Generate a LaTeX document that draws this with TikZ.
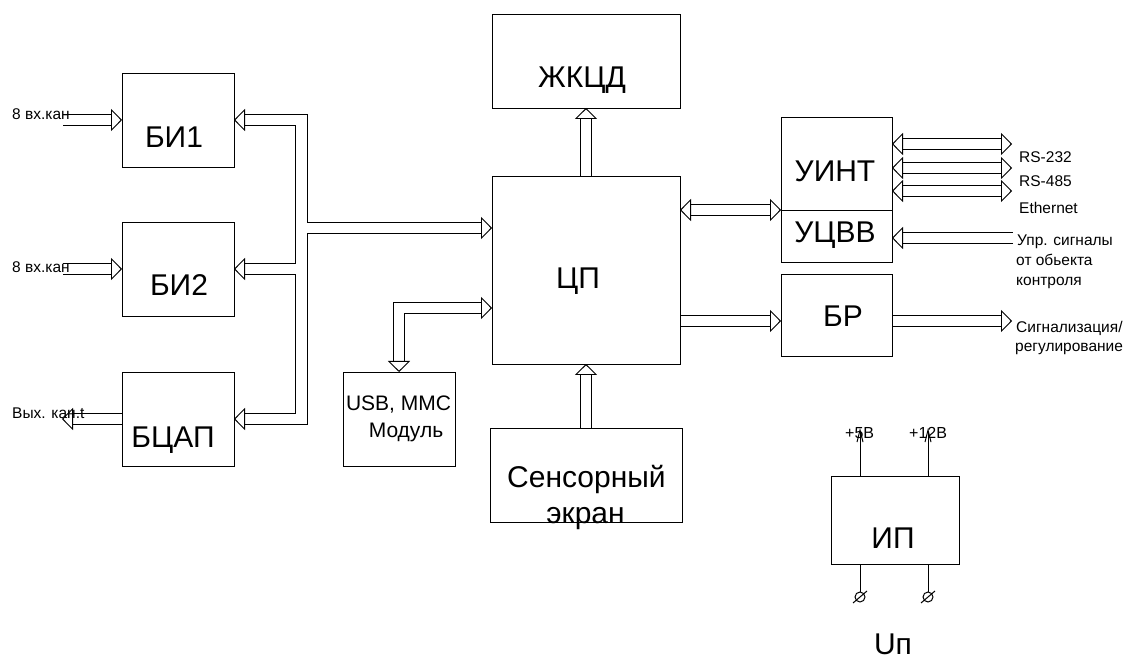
\documentclass[tikz,border=0pt]{standalone}
\usepackage{fontspec}
\setmainfont{Liberation Sans}
\usetikzlibrary{arrows.meta,backgrounds,calc}
\tikzset{
  box/.style={draw, line width=0.9pt, inner sep=0pt, outer sep=0pt},
  big/.style={font=\fontsize{30}{33}\selectfont, anchor=base, inner sep=0pt},
  mid/.style={font=\fontsize{21}{24}\selectfont, anchor=base, inner sep=0pt},
  small/.style={font=\fontsize{15.5}{19}\selectfont, anchor=base west, inner sep=0pt},
  tiny/.style={font=\fontsize{16}{19}\selectfont, anchor=base west, inner sep=0pt},
  hollow/.tip={Triangle[length=11pt,width=22pt,color=black,fill=white,line width=0.9pt]},
  busline/.style={line width=1pt, double=white, double distance=10pt, shorten >=11pt},
  dbusline/.style={busline, shorten <=11pt},
  bushead/.style={draw=white, line width=0.3pt, -{hollow}},
  dbushead/.style={draw=white, line width=0.3pt, {hollow}-{hollow}},
  wire/.style={line width=1pt},
}
\newcommand\busarrow[1]{\draw[busline] #1; \draw[bushead] #1;}
\newcommand\dbusarrow[1]{\draw[dbusline] #1; \draw[dbushead] #1;}
\begin{document}
\begin{tikzpicture}[x=1pt,y=-1pt]
\useasboundingbox (0,0) rectangle (1125,660);

% boxes
\node[box, minimum width=112pt, minimum height=94pt] (bi1) at (178,120) {};
\node[box, minimum width=112pt, minimum height=94pt] (bi2) at (178,269) {};
\node[box, minimum width=112pt, minimum height=94pt] (bcap) at (178,419) {};
\node[box, minimum width=188pt, minimum height=94pt] (zhk) at (586,61) {};
\node[box, minimum width=188pt, minimum height=188pt] (cp) at (586,270) {};
\node[box, minimum width=111pt, minimum height=93pt] (uint) at (836.5,163.5) {};
\node[box, minimum width=111pt, minimum height=52pt] (ucvv) at (836.5,236) {};
\node[box, minimum width=111pt, minimum height=82pt] (br) at (836.5,315) {};
\node[box, minimum width=112pt, minimum height=94pt] (usb) at (399,419) {};
\node[box, minimum width=192pt, minimum height=94pt] (sens) at (586,475) {};
\node[box, minimum width=128pt, minimum height=88pt] (ip) at (895,520) {};

% box texts
\node[big] (tbi1) at (174,148) {БИ1};
\node[big] (tbi2) at (179,296) {БИ2};
\node[big] (tbcap) at (173,447) {БЦАП};
\node[big] (tzhk) at (582,88) {ЖКЦД};
\node[big] (tcp) at (578,289) {ЦП};
\node[big] (tuint) at (835,182) {УИНТ};
\node[big] (tucvv) at (835,243) {УЦВВ};
\node[big] (tbr) at (843,327) {БР};
\node[big] (tip) at (893,548) {ИП};
\node[big] (tun) at (893,654) {Uп};
\node[big] (tsens1) at (586.5,487) {Сенсорный};
\node[big] (tsens2) at (585.5,523) {экран};
\node[mid] (tusb1) at (398.5,410) {USB, MMC};
\node[mid] (tusb2) at (406,437) {Модуль};

% side labels
\node[small] (lin1) at (12,120) {8 вх.кан};
\node[small] (lin2) at (12,273) {8 вх.кан};
\node[small] (lout) at (12,418) {Вых. кан.t};
\node[small] (lrs1) at (1019,163) {RS-232};
\node[small] (lrs2) at (1019,187) {RS-485};
\node[small] (leth) at (1019,214) {Ethernet};
\node[small] (lupr1) at (1017,246) {Упр. сигналы};
\node[small] (lupr2) at (1016,266) {от обьекта};
\node[small] (lupr3) at (1016,286) {контроля};
\node[small] (lsig1) at (1016,333) {Сигнализация/};
\node[small] (lsig2) at (1015,352) {регулирование};
\node[tiny] (l5) at (845,438) {+5В};
\node[tiny] (l12) at (909,438) {+12В};

% free ends
\coordinate (in1) at (63,120);
\coordinate (in2) at (63,269);
\coordinate (out3) at (62,419);
\coordinate (ycp) at (0,228);
\coordinate (rs1) at (1012,144);
\coordinate (rs2) at (1012,168);
\coordinate (rs3) at (1012,191);
\coordinate (upr) at (1013,238);
\coordinate (ybr) at (0,321);
\coordinate (brout) at (1012,321);
\coordinate (yusb) at (0,308);
\coordinate (p5) at (860,428);
\coordinate (p12) at (928,428);
\coordinate (g5) at (860,597);
\coordinate (g12) at (928,597);

\begin{pgfonlayer}{background}
% left bus
\draw[wire] ([xshift=11pt,yshift=5.5pt]bi1.east) -| (307,222.5) -- (481,222.5);
\draw[wire] ([xshift=11pt,yshift=-5.5pt]bi1.east) -| (295,263.5) -- ([xshift=11pt,yshift=5.5pt]bi2.east);
\draw[wire] ([xshift=11pt,yshift=-5.5pt]bi2.east) -| (295,413.5) -- ([xshift=11pt,yshift=5.5pt]bcap.east);
\draw[wire] (481,233.5) -| (307,424.5) -- ([xshift=11pt,yshift=-5.5pt]bcap.east);
\draw[bushead] ([xshift=20pt]bi1.east) -- (bi1.east);
\draw[bushead] ([xshift=20pt]bi2.east) -- (bi2.east);
\draw[bushead] ([xshift=20pt]bcap.east) -- (bcap.east);
\draw[bushead] (470,228) -- (cp.west |- ycp);

% inputs / outputs
\busarrow{(in1) -- (in1 -| bi1.west)}
\busarrow{(in2) -- (in2 -| bi2.west)}
\busarrow{(out3 -| bcap.west) -- (out3)}

% CP connections
\busarrow{(cp.north) -- (zhk.south)}
\busarrow{(sens.north) -- (cp.south)}
\dbusarrow{(cp.east |- ucvv.north west) -- (ucvv.north west)}
\busarrow{(cp.east |- ybr) -- (br.west |- ybr)}
\dbusarrow{(cp.west |- yusb) -| (usb.north)}

% right side
\dbusarrow{(uint.east |- rs1) -- (rs1)}
\dbusarrow{(uint.east |- rs2) -- (rs2)}
\dbusarrow{(uint.east |- rs3) -- (rs3)}
\busarrow{(upr) -- (upr -| ucvv.east)}
\busarrow{(br.east |- brout) -- (brout)}

% power supply
\draw[wire, -{Straight Barb[length=12pt,width=6pt]}] (p5 |- ip.north) -- (p5);
\draw[wire, -{Straight Barb[length=12pt,width=6pt]}] (p12 |- ip.north) -- (p12);
\draw[wire] (g5 |- ip.south) -- ([yshift=5pt]g5);
\draw[wire] (g12 |- ip.south) -- ([yshift=5pt]g12);
\end{pgfonlayer}
\draw[wire] (g5) circle (5pt);
\draw[wire] (g12) circle (5pt);
\draw[wire] ([xshift=-7pt,yshift=-6pt]g5) -- ([xshift=7pt,yshift=6pt]g5);
\draw[wire] ([xshift=-7pt,yshift=-6pt]g12) -- ([xshift=7pt,yshift=6pt]g12);
\end{tikzpicture}
\end{document}
